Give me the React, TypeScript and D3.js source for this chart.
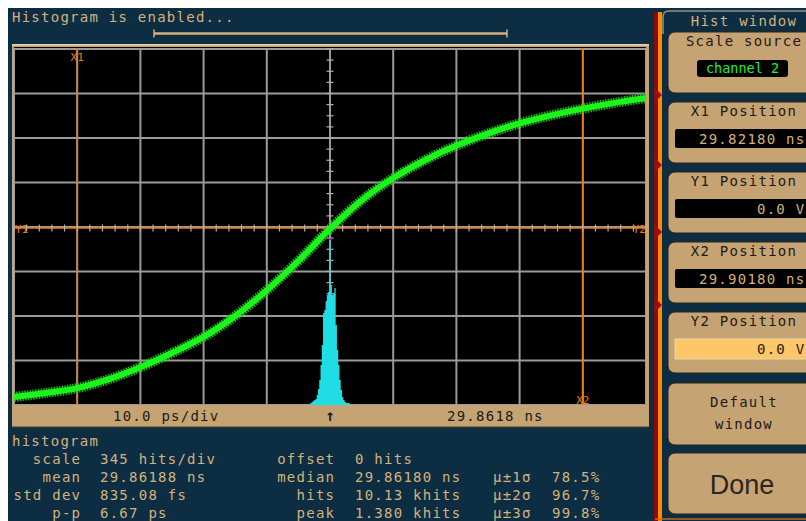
import React from 'react';
import * as d3 from 'd3';

// ---- data ----
const curveTimePs = [-50, -45, -40, -35, -30, -25, -20, -15, -10, -5, 0, 5, 10, 15, 20, 25, 30, 35, 40, 45, 50];
const curveLevelDiv = [-3.82, -3.73, -3.62, -3.42, -3.15, -2.83, -2.47, -2.0, -1.42, -0.76, -0.04, 0.6, 1.1, 1.5, 1.83, 2.1, 2.33, 2.51, 2.66, 2.79, 2.9];

const histBinPs = [-3.0, -2.8, -2.6, -2.4, -2.2, -2.0, -1.8, -1.6, -1.4, -1.2, -1.0, -0.8, -0.6, -0.4, -0.2, 0, 0.2, 0.4, 0.6, 0.8, 1.0, 1.2, 1.4, 1.6, 1.8, 2.0, 2.2, 2.4, 2.6, 2.8, 3.0, 3.2];
const histHits = [16, 23, 31, 39, 47, 78, 124, 194, 310, 465, 713, 736, 806, 853, 876, 1380, 930, 853, 868, 907, 620, 426, 310, 194, 116, 62, 39, 23, 16, 16, 16, 8];
const histBinWidthPs = 0.2;
const hitsPerDiv = 345;

const cursorX1Ps = -40;
const cursorX2Ps = 40;
const cursorYDiv = 0;

const statLabelsA = ['scale', 'mean', 'std dev', 'p-p'];
const statValuesA = ['345 hits/div', '29.86188 ns', '835.08 fs', '6.67 ps'];
const statLabelsB = ['offset', 'median', 'hits', 'peak'];
const statValuesB = ['0 hits', '29.86180 ns', '10.13 khits', '1.380 khits'];
const sigmaLabels = ['', 'μ±1σ', 'μ±2σ', 'μ±3σ'];
const sigmaValues = ['', '78.5%', '96.7%', '99.8%'];

const panelLabels = ['Scale source', 'X1 Position', 'Y1 Position', 'X2 Position', 'Y2 Position'];
const panelValues = ['channel 2', '29.82180 ns', '0.0 V', '29.90180 ns', '0.0 V'];

const headerText = 'Histogram is enabled...';
const timebaseText = '10.0 ps/div';
const delayText = '29.8618 ns';

// ---- styles ----
const NAVY = '#0d2e42';
const TAN = '#d4b27c';
const TANBOX = '#c6a372';
const MONO = 'DejaVu Sans Mono, monospace';
const ORANGE = '#f07a12';
const GRID = '#9a9a9a';

export default function App() {
  const x = d3.scaleLinear().domain([-50, 50]).range([14, 646]);
  const y = d3.scaleLinear().domain([-4, 4]).range([405, 49]);
  const yHist = d3.scaleLinear().domain([0, hitsPerDiv * 8]).range([405, 49]);

  const pts = curveTimePs.map((t, i) => [t, curveLevelDiv[i]] as [number, number]);
  const line = d3.line<[number, number]>().x(d => x(d[0])).y(d => y(d[1])).curve(d3.curveCatmullRom);
  const tracePath = line(pts) || '';

  const histPts: [number, number][] = [];
  histBinPs.forEach((t, i) => {
    histPts.push([t - histBinWidthPs / 2, histHits[i]]);
  });
  histPts.push([histBinPs[histBinPs.length - 1] + histBinWidthPs / 2, 0]);
  const histArea = d3.area<[number, number]>()
    .x(d => x(d[0]))
    .y0(yHist(0))
    .y1(d => yHist(d[1]))
    .curve(d3.curveStepAfter)(histPts) || '';

  const vGrid = d3.range(-50, 51, 10);
  const hGrid = d3.range(-4, 4.01, 1);
  const hTicks = d3.range(-50, 50.01, 2);
  const vTicks = d3.range(-4, 4.01, 0.25);

  const fs = 14;
  const ls = 1.25;
  const txt = (s: string, px: number, py: number, fill: string, anchor: string = 'start', extra: any = {}) => (
    <text x={px} y={py} fill={fill} fontFamily={MONO} fontSize={fs} letterSpacing={ls} textAnchor={anchor} {...extra}>{s}</text>
  );

  const boxTops = [32, 102, 172, 242, 312];

  return (
    <div>
      <style>{`body{margin:8px 0 0 8px;overflow:hidden;}`}</style>
      <svg width={798} height={513} style={{ display: 'block' }}>
        <defs>
          <clipPath id="plotclip"><rect x={14} y={48} width={632} height={357} /></clipPath>
        </defs>
        <g transform="translate(-8,-8)">
          <rect x={8} y={8} width={798} height={513} fill={NAVY} />
          {/* header */}
          {txt(headerText, 12, 22, TAN)}
          <line x1={154} x2={507} y1={33.5} y2={33.5} stroke={TAN} strokeWidth={2.5} />
          <line x1={154} x2={154} y1={29.5} y2={37.5} stroke={TAN} strokeWidth={1.5} />
          <line x1={507} x2={507} y1={29.5} y2={37.5} stroke={TAN} strokeWidth={1.5} />

          {/* plot frame */}
          <rect x={12} y={44} width={637} height={383} fill={TANBOX} />
          <rect x={12} y={44} width={637} height={1.5} fill="#ecd3a6" />
          <rect x={14} y={47} width={632} height={358} fill="#000" />
          <line x1={12} x2={649} y1={427} y2={427} stroke="#4a3c22" strokeWidth={1} />

          <g clipPath="url(#plotclip)">
            {vGrid.map(t => (
              <line key={'v' + t} x1={x(t)} x2={x(t)} y1={47} y2={405} stroke={GRID} strokeWidth={2} />
            ))}
            {hGrid.map(v => (
              <line key={'h' + v} x1={14} x2={646} y1={y(v)} y2={y(v)} stroke={GRID} strokeWidth={2} />
            ))}
            {vTicks.map(v => (
              <line key={'vt' + v} x1={x(0) - 3.5} x2={x(0) + 3.5} y1={y(v)} y2={y(v)} stroke="#b0b0b0" strokeWidth={1.2} />
            ))}
            {/* cursors */}
            <line x1={x(cursorX1Ps)} x2={x(cursorX1Ps)} y1={47} y2={405} stroke={ORANGE} strokeWidth={1.5} />
            <line x1={x(cursorX2Ps)} x2={x(cursorX2Ps)} y1={47} y2={405} stroke={ORANGE} strokeWidth={1.5} />
            <line x1={14} x2={646} y1={y(cursorYDiv) + 1} y2={y(cursorYDiv) + 1} stroke={ORANGE} strokeWidth={1.5} />
            {hTicks.map(t => (
              <line key={'ht' + t} x1={x(t)} x2={x(t)} y1={y(cursorYDiv) - 2.5} y2={y(cursorYDiv) + 4.5} stroke="#b0b0b0" strokeWidth={1.2} />
            ))}
            {/* histogram */}
            <path d={histArea} fill="#1fdde2" />
            {/* trace */}
            <path d={tracePath} fill="none" stroke="#14d814" strokeOpacity={0.85} strokeWidth={10} strokeDasharray="1.5 1.2" />
            <path d={tracePath} fill="none" stroke="#1cf51c" strokeWidth={6} />
            <circle cx={x(0)} cy={239} r={1.2} fill="#d02080" />
          </g>
          {/* cursor labels */}
          <text x={x(cursorX1Ps)} y={61} fill={ORANGE} fontFamily={MONO} fontSize={11} textAnchor="middle">X1</text>
          <text x={x(cursorX2Ps)} y={404} fill={ORANGE} fontFamily={MONO} fontSize={11} textAnchor="middle">X2</text>
          <text x={15} y={233} fill={ORANGE} fontFamily={MONO} fontSize={11}>Y1</text>
          <text x={646} y={233} fill={ORANGE} fontFamily={MONO} fontSize={11} textAnchor="end">Y2</text>

          {/* bottom bar text */}
          {txt(timebaseText, 113, 421, '#1c1a16')}
          <text x={x(0)} y={421} fill="#1c1a16" fontFamily={MONO} fontSize={16} fontWeight="bold" textAnchor="middle">↑</text>
          {txt(delayText, 447, 421, '#1c1a16')}

          {/* stats */}
          {txt('histogram', 12, 446, TAN)}
          {statLabelsA.map((s, i) => <g key={'la' + i}>{txt(s, 80 + ls, 464 + i * 18, TAN, 'end')}</g>)}
          {statValuesA.map((s, i) => <g key={'va' + i}>{txt(s, 100, 464 + i * 18, TAN)}</g>)}
          {statLabelsB.map((s, i) => <g key={'lb' + i}>{txt(s, 334 + ls, 464 + i * 18, TAN, 'end')}</g>)}
          {statValuesB.map((s, i) => <g key={'vb' + i}>{txt(s, 355, 464 + i * 18, TAN)}</g>)}
          {sigmaLabels.map((s, i) => <g key={'sl' + i}>{txt(s, 493, 464 + i * 18, TAN)}</g>)}
          {sigmaValues.map((s, i) => <g key={'sv' + i}>{txt(s, 552, 464 + i * 18, TAN)}</g>)}

          {/* side strip */}
          <rect x={654} y={12} width={4} height={509} fill="#8e0a0a" />
          <rect x={658} y={12} width={4} height={509} fill="#ff8a00" />
          {[95, 165, 232, 305].map(v => (
            <path key={'tri' + v} d={`M655 ${v - 7} L662 ${v} L655 ${v + 7} Z`} fill="#a00c0c" />
          ))}

          {/* right panel */}
          <path d="M663 34 V17 Q663 11 669 11 H806" fill="none" stroke="#9a917c" strokeWidth={1.5} />
          {txt('Hist window', 744, 26, TAN, 'middle')}
          {panelLabels.map((lab, i) => {
            const top = boxTops[i];
            return (
              <g key={'box' + i}>
                <rect x={668} y={top} width={150} height={61} rx={7} fill={TANBOX} stroke="#2c2416" strokeWidth={1} />
                {txt(lab, 744, top + 14, '#1c1a16', 'middle')}
              </g>
            );
          })}
          {/* value fields */}
          <rect x={697} y={60} width={91} height={17} rx={3} fill="#000" />
          <text x={742.5} y={73} fill="#22ee33" fontFamily={MONO} fontSize={13.5} textAnchor="middle">{panelValues[0]}</text>
          {[1, 2, 3].map(i => (
            <g key={'f' + i}>
              <rect x={675} y={boxTops[i] + 27} width={140} height={19} rx={2} fill="#000" />
              {txt(panelValues[i], i === 2 ? 757 : 699, boxTops[i] + 42, TAN)}
            </g>
          ))}
          <rect x={675} y={boxTops[4] + 27} width={140} height={20} fill="#fdc668" stroke="#e8d8a8" strokeWidth={1} />
          {txt(panelValues[4], 757, boxTops[4] + 42, '#1c1a16')}

          <rect x={668} y={383} width={150} height={62} rx={7} fill={TANBOX} stroke="#2c2416" strokeWidth={1} />
          {txt('Default', 744, 407, '#1c1a16', 'middle')}
          {txt('window', 744, 429, '#1c1a16', 'middle')}
          <rect x={668} y={453} width={150} height={61} rx={7} fill={TANBOX} stroke="#2c2416" strokeWidth={1} />
          <text x={742} y={494} fill="#2a2620" fontFamily="Liberation Sans Narrow, Liberation Sans, Arial, sans-serif" fontSize={27} textAnchor="middle">Done</text>
          <line x1={655} x2={806} y1={519} y2={519} stroke="#c86a10" strokeWidth={1.5} />
        </g>
      </svg>
    </div>
  );
}
